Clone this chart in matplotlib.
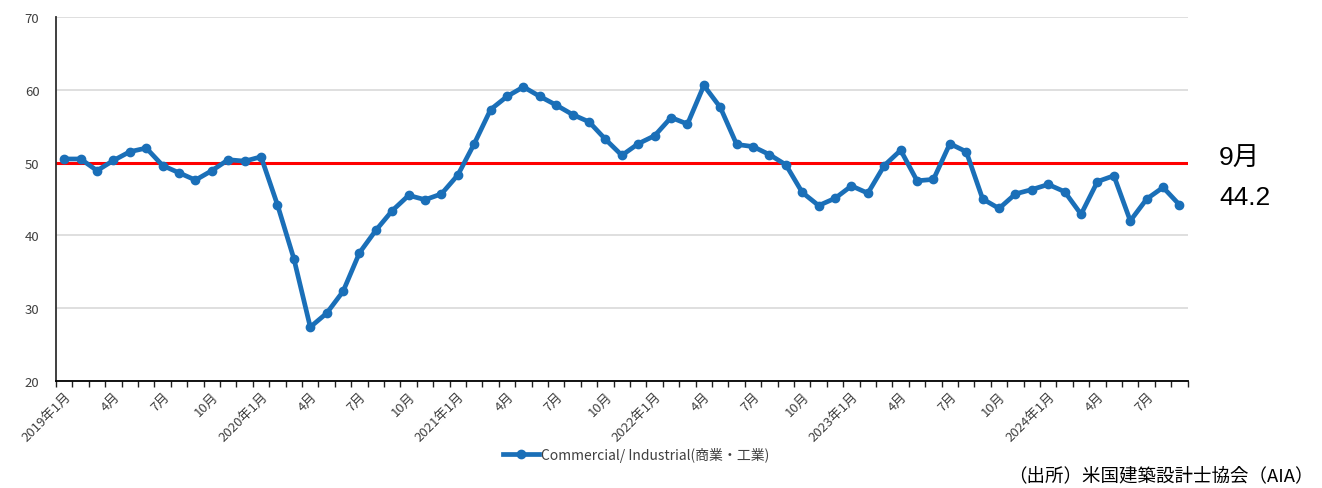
import matplotlib.pyplot as plt
from matplotlib.ticker import MultipleLocator

plt.rcParams['font.family'] = ['Noto Sans CJK JP', 'DejaVu Sans']

# AIA billings index, Commercial/Industrial, 2019-01 .. 2024-09
months = list(range(69))
values = [50.5, 50.5, 48.9, 50.3, 51.5, 52.0, 49.6, 48.6, 47.6, 48.9, 50.4, 50.2,
          50.8, 44.2, 36.8, 27.4, 29.3, 32.3, 37.6, 40.7, 43.4, 45.5, 44.9, 45.7,
          48.3, 52.6, 57.3, 59.1, 60.4, 59.1, 57.9, 56.6, 55.6, 53.2, 51.0, 52.6,
          53.7, 56.2, 55.3, 60.6, 57.6, 52.5, 52.2, 51.1, 49.7, 45.9, 44.1, 45.1,
          46.8, 45.8, 49.6, 51.7, 47.5, 47.7, 52.6, 51.5, 45.0, 43.7, 45.7, 46.3,
          47.0, 46.0, 42.9, 47.4, 48.2, 42.0, 45.0, 46.6, 44.2]
tick_pos = list(range(0, 69, 3))
tick_labels = []
for i in tick_pos:
    if i % 12 == 0:
        tick_labels.append(f'{2019 + i // 12}年1月')
    else:
        tick_labels.append(f'{i % 12 + 1}月')

fig = plt.figure(figsize=(13.22, 4.89), dpi=100)
ax = fig.add_axes([0.0424, 0.219, 0.856, 0.744])

ax.plot(months, values, color='#1a6fb8', lw=3.4, marker='o', ms=6,
        label='Commercial/ Industrial(商業・工業)', zorder=3)
ax.axhline(50, color='#ff0000', lw=2.2, zorder=2)

ax.set_ylim(20, 70)
ax.set_xlim(-0.45, 68.5)
ax.yaxis.set_major_locator(MultipleLocator(10))
ax.grid(axis='y', color='#d9d9d9', lw=1.2)
ax.set_axisbelow(True)

ax.set_xticks(tick_pos)
ax.set_xticklabels(tick_labels, rotation=45, ha='right', rotation_mode='anchor',
                   fontsize=9.5, color='#404040')
ax.set_xticks([m - 0.5 for m in months] + [68.5], minor=True)
ax.tick_params(axis='x', which='major', length=0, pad=6)
ax.tick_params(axis='x', which='minor', length=4, width=1, color='#202020')
ax.tick_params(axis='y', length=0, labelsize=9.5, labelcolor='#404040', pad=12)

for s in ['top', 'right']:
    ax.spines[s].set_visible(False)
ax.spines['left'].set_color('#303030')
ax.spines['bottom'].set_color('#000000')
ax.spines['left'].set_linewidth(1.3)
ax.spines['bottom'].set_linewidth(1.3)

fig.text(0.922, 0.676, '9月', fontsize=19, family=['Liberation Sans', 'Noto Sans CJK JP'],
         va='center', ha='left')
fig.text(0.922, 0.595, '44.2', fontsize=19, family=['Liberation Sans', 'Noto Sans CJK JP'],
         va='center', ha='left')

leg = fig.legend(loc='center', bbox_to_anchor=(0.481, 0.068), frameon=False,
                 fontsize=10, handlelength=2.6, handletextpad=0.1)
for t in leg.get_texts():
    t.set_color('#404040')

fig.text(0.994, 0.008, '（出所）米国建築設計士協会（AIA）', fontsize=13.3,
         ha='right', va='bottom')

fig.savefig('out.png', dpi=100)
